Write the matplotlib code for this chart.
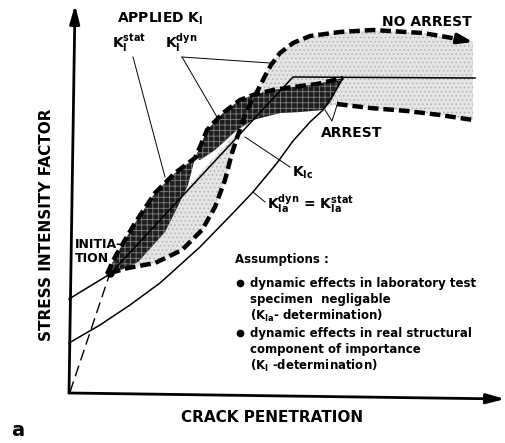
"""
Crack arrest schematic: applied K_I (static / dynamic) against crack penetration,
with K_Ic and K_Ia resistance curves.  Coordinates are schematic units
(a = crack penetration, K = stress intensity factor), origin at the axis corner.
"""

import matplotlib.pyplot as plt

plt.rcParams['font.family'] = ['DejaVu Sans']
plt.rcParams['mathtext.fontset'] = 'custom'
plt.rcParams['mathtext.rm'] = 'DejaVu Sans:bold'
plt.rcParams['mathtext.it'] = 'DejaVu Sans:bold'
plt.rcParams['mathtext.bf'] = 'DejaVu Sans:bold'
plt.rcParams['hatch.linewidth'] = 0.6

# K_Ic : rises to initiation, straight line, then flat
kic_a = [-1, 17, 40, 223, 405]
kic_k = [93, 104, 118, 315, 314]

# K_Ia (dyn = stat)
kia_a = [-1, 30, 60, 90, 130, 163, 183, 207, 223, 240, 253, 263, 273]
kia_k = [49, 67, 87, 109, 145, 179, 200, 229, 251, 270, 282, 297, 314]

# loading line up to initiation
load_a = [0, 40]
load_k = [0, 119]

# applied K_I, no arrest branch
noarr_a = [40, 58, 85, 112, 132, 145, 155, 162, 168, 175, 182, 188, 194, 201,
           210, 223, 240, 270, 303, 353, 388]
noarr_k = [119, 124, 129, 142, 162, 185, 212, 239, 257, 277, 292, 302, 314, 327,
           339, 349, 356, 360, 362, 359, 353]
noarr_tip = (403, 350)

# arrest branch
arr_a = [267, 300, 337, 370, 403]
arr_k = [288, 284, 281, 277, 272]

# upper / left edge of dynamic band (K_I^dyn)
dyn_a = [37, 45, 65, 85, 105, 125, 130, 137, 153, 170, 183, 203, 223, 247, 273]
dyn_k = [118, 135, 169, 199, 219, 234, 245, 262, 279, 292, 297, 302, 305, 308, 314]

# lower edges of the dark (static-dynamic) bands
lens_low_a = [118, 108, 95, 68, 40]
lens_low_k = [207, 186, 160, 130, 117]
band_low_a = [260, 253, 230, 210, 183, 167, 145, 130]
band_low_k = [289, 282, 280, 279, 272, 262, 242, 232]

# leader lines: label anchor -> target
leaders = {
    'stat': ([63, 95], [335, 215]),
    'dyn1': ([112, 147], [335, 275]),
    'dyn2': ([112, 200], [335, 329]),
    'kic': ([175, 220], [255, 225]),
    'kia': ([183, 195], [200, 190]),
    'arrest': ([255, 262, 268], [282, 271, 290]),
}

assumptions = [
    'dynamic effects in laboratory test',
    'specimen  negligable',
    r'(K$_\mathrm{Ia}$- determination)',
    'dynamic effects in real structural',
    'component of importance',
    r'(K$_\mathrm{I}$ -determination)',
]

fig = plt.figure(figsize=(5.06, 4.43), dpi=100)
ax = fig.add_axes([0, 0, 1, 1])
ax.set_xlim(-70, 436)
ax.set_ylim(-51, 392)
ax.axis('off')

# light stippled region between the two applied K_I branches
light_a = noarr_a + [noarr_tip[0]] + arr_a[::-1] + [253, 230, 210, 183, 167, 40]
light_k = noarr_k + [noarr_tip[1]] + arr_k[::-1] + [282, 280, 279, 272, 260, 118]
ax.fill(light_a, light_k, facecolor='#e4e4e4', hatch='....', edgecolor='#b0b0b0',
        linewidth=0, zorder=1)

# dark cross-hatched bands
ax.fill(dyn_a[:6] + lens_low_a, dyn_k[:6] + lens_low_k, facecolor='#1e1e1e',
        hatch='+++', edgecolor='#808080', linewidth=0, zorder=2)
ax.fill(dyn_a[5:] + band_low_a, dyn_k[5:] + band_low_k, facecolor='#1e1e1e',
        hatch='+++', edgecolor='#808080', linewidth=0, zorder=2)

# resistance curves
ax.plot(kic_a, kic_k, color='k', lw=1.1, zorder=3)
ax.plot(kia_a, kia_k, color='k', lw=1.1, zorder=3)
ax.plot(load_a, load_k, color='k', lw=1.0, ls=(0, (8, 4)), zorder=3)

# applied K_I curves
thick = dict(color='k', lw=3.2, ls=(0, (2.4, 1.1)), solid_capstyle='butt', zorder=4)
ax.plot(noarr_a, noarr_k, **thick)
ax.plot(arr_a, arr_k, **thick)
ax.plot(dyn_a, dyn_k, **thick)
ax.annotate('', xy=noarr_tip, xytext=(noarr_a[-1], noarr_k[-1]),
            arrowprops=dict(arrowstyle='-|>,head_length=0.9,head_width=0.3',
                            color='k', lw=2.5, shrinkA=0, shrinkB=0), zorder=4)
ax.plot([load_a[-1]], [load_k[-1]], 'o', color='k', ms=5, zorder=4)

for xs, ys in leaders.values():
    ax.plot(xs, ys, color='k', lw=0.7, zorder=5)

# axes arrows
arrow = dict(arrowstyle='-|>,head_length=1.1,head_width=0.3', color='k', lw=2,
             shrinkA=0, shrinkB=0)
ax.annotate('', xy=(5, 387), xytext=(-1, -1), arrowprops=arrow)
ax.annotate('', xy=(435, -7), xytext=(-1, -1), arrowprops=arrow)

# labels
lab = dict(fontsize=10, fontweight='bold', color='k')
ax.text(-23, 167, 'STRESS INTENSITY FACTOR', rotation=90, ha='center', va='center',
        fontsize=11, fontweight='bold')
ax.text(202, -26, 'CRACK PENETRATION', ha='center', va='center',
        fontsize=11, fontweight='bold')
ax.text(-52, -38, 'a', ha='center', va='center', fontsize=14, fontweight='bold')

ax.text(47, 373, r'APPLIED K$_\mathrm{I}$', ha='left', va='center', **lab)
ax.text(42, 349, r'K$_\mathrm{I}^\mathrm{stat}$', ha='left', va='center', **lab)
ax.text(95, 349, r'K$_\mathrm{I}^\mathrm{dyn}$', ha='left', va='center', **lab)
ax.text(357, 370, 'NO ARREST', ha='center', va='center', **lab)
ax.text(282, 259, 'ARREST', ha='center', va='center', **lab)
ax.text(222, 219, r'K$_\mathrm{Ic}$', ha='left', va='center', **lab)
ax.text(197, 188, r'K$_\mathrm{Ia}^\mathrm{dyn}$ = K$_\mathrm{Ia}^\mathrm{stat}$',
        ha='left', va='center', **lab)
ax.text(5, 148, 'INITIA-', ha='left', va='center', fontsize=9, fontweight='bold')
ax.text(5, 134, 'TION', ha='left', va='center', fontsize=9, fontweight='bold')

body = dict(fontsize=8.5, fontweight='bold', color='k', ha='left', va='center')
ax.text(165, 132, 'Assumptions :', **body)
line_k = [109, 92, 76, 59, 42, 26]
for i, (txt, k) in enumerate(zip(assumptions, line_k)):
    ax.text(180, k, txt, **body)
    if i % 3 == 0:
        ax.plot([170], [k], 'o', color='k', ms=4.5)

fig.savefig('out.png', dpi=100)
